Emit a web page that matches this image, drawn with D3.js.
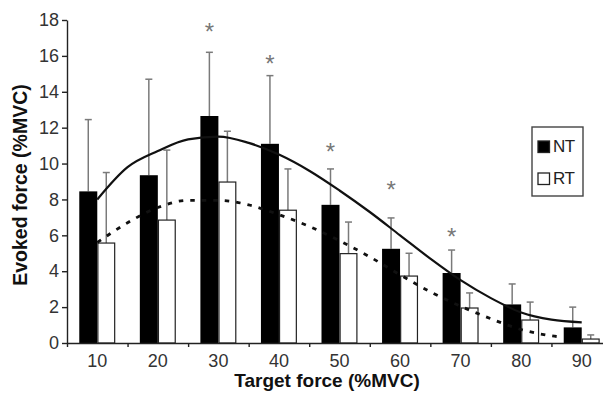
<!DOCTYPE html>
<html>
<head>
<meta charset="utf-8">
<script src="https://cdn.jsdelivr.net/npm/d3@7"></script>
<style>
  body { margin: 0; background: #fff; }
  svg { display: block; font-family: 'Liberation Sans', Arial, sans-serif; }
  .axis path, .axis line { stroke: #222; stroke-width: 1.4px; }
  .axis text { fill: #333; font-size: 18px; }
  .title { font-weight: bold; fill: #111; }
  .err { stroke: #7a7a7a; stroke-width: 1.5px; fill: none; }
  .fit { fill: none; stroke: #111; }
</style>
</head>
<body>
<div id="chart"></div>
<script>
// target force categories (%MVC)
const categories = ["10", "20", "30", "40", "50", "60", "70", "80", "90"];
const series = ["NT", "RT"];

// evoked force means and upward SD
const ntMean = [8.45, 9.35, 12.65, 11.1, 7.7, 5.25, 3.9, 2.15, 0.87];
const ntSd   = [4.0, 5.35, 3.55, 3.8, 2.0, 1.72, 1.28, 1.14, 1.13];
const rtMean = [5.57, 6.85, 8.97, 7.4, 4.98, 3.73, 1.95, 1.28, 0.22];
const rtSd   = [3.93, 3.9, 2.83, 2.3, 1.76, 1.27, 0.84, 1.0, 0.23];

// fitted curves
const ntFitX = [10, 15, 20, 25, 30, 35, 40, 45, 50, 55, 60, 65, 70, 75, 80, 85, 90];
const ntFit  = [8.0, 9.8, 10.7, 11.35, 11.5, 11.15, 10.5, 9.6, 8.5, 7.3, 6.0, 4.7, 3.5, 2.5, 1.7, 1.3, 1.15];
const rtFitX = [10, 15, 20, 25, 30, 35, 40, 45, 50, 55, 60, 65, 70, 75, 80, 85, 87];
const rtFit  = [5.6, 6.7, 7.55, 7.95, 7.95, 7.7, 7.15, 6.5, 5.7, 4.8, 3.8, 2.85, 2.05, 1.35, 0.75, 0.4, 0.32];

// significance markers (category, height)
const starCats = ["30", "40", "50", "60", "70"];
const starY    = [17.6, 15.8, 10.9, 8.8, 6.2];

const yTicks = [0, 2, 4, 6, 8, 10, 12, 14, 16, 18];

const width = 603, height = 394;
const svg = d3.select("#chart").append("svg")
  .attr("width", width).attr("height", height);

const x = d3.scaleBand().domain(categories).range([67, 612]);
const bw = x.bandwidth();
const sub = d3.scaleBand().domain(series).range([bw / 2 - 18, bw / 2 + 18]);
const y = d3.scaleLinear().domain([0, 18]).range([343, 20]);
const xf = d3.scaleLinear().domain([10, 90])
  .range([x("10") + bw / 2, x("90") + bw / 2]);

const rows = categories.map((c, i) => [
  { c, s: "NT", v: ntMean[i], sd: ntSd[i] },
  { c, s: "RT", v: rtMean[i], sd: rtSd[i] }
]).flat();

// error bars (upward only)
const eb = svg.append("g").selectAll("g").data(rows).join("g").attr("class", "err");
eb.append("line")
  .attr("x1", d => x(d.c) + sub(d.s) + sub.bandwidth() / 2)
  .attr("x2", d => x(d.c) + sub(d.s) + sub.bandwidth() / 2)
  .attr("y1", d => y(d.v)).attr("y2", d => y(d.v + d.sd));
eb.append("line")
  .attr("x1", d => x(d.c) + sub(d.s) + sub.bandwidth() / 2 - 3.5)
  .attr("x2", d => x(d.c) + sub(d.s) + sub.bandwidth() / 2 + 3.5)
  .attr("y1", d => y(d.v + d.sd)).attr("y2", d => y(d.v + d.sd));

// bars
svg.append("g").selectAll("rect").data(rows).join("rect")
  .attr("x", d => x(d.c) + sub(d.s) + (d.s === "RT" ? 0.6 : 0))
  .attr("width", d => sub.bandwidth() - (d.s === "RT" ? 1.2 : 0))
  .attr("y", d => y(d.v))
  .attr("height", d => y(0) - y(d.v))
  .attr("fill", d => d.s === "NT" ? "#000" : "#fff")
  .attr("stroke", d => d.s === "NT" ? "none" : "#222")
  .attr("stroke-width", 1.2);

// fitted curves
const line = d3.line().curve(d3.curveMonotoneX);
svg.append("path").attr("class", "fit")
  .attr("stroke-width", 2.2)
  .attr("d", line(ntFitX.map((f, i) => [xf(f), y(ntFit[i])])));
svg.append("path").attr("class", "fit")
  .attr("stroke-width", 2.8)
  .attr("stroke-dasharray", "4.5,7")
  .attr("d", line(rtFitX.map((f, i) => [xf(f), y(rtFit[i])])));

// asterisks
svg.append("g").selectAll("text").data(starCats).join("text")
  .attr("x", d => x(d) + sub("NT") + sub.bandwidth() / 2)
  .attr("y", (d, i) => y(starY[i]) + 13)
  .attr("text-anchor", "middle")
  .attr("font-size", 24)
  .attr("fill", "#777")
  .text("*");

// axes
svg.append("g").attr("class", "axis")
  .attr("transform", "translate(67,0)")
  .call(d3.axisLeft(y).tickValues(yTicks).tickSize(5).tickSizeOuter(0).tickPadding(3));

svg.append("g").attr("class", "axis")
  .attr("transform", "translate(0,343)")
  .call(d3.axisBottom(x).tickSize(0).tickPadding(11))
  .call(g => g.select(".domain").remove());

const xb = d3.scaleLinear().domain([0, categories.length]).range(x.range());
svg.append("g").attr("class", "axis")
  .attr("transform", "translate(0,343)")
  .call(d3.axisBottom(xb).tickValues(d3.range(0, categories.length + 1))
    .tickFormat("").tickSize(4).tickSizeOuter(0));

// axis titles
svg.append("text").attr("class", "title")
  .attr("x", 327).attr("y", 387)
  .attr("text-anchor", "middle").attr("font-size", 19)
  .text("Target force (%MVC)");
svg.append("text").attr("class", "title")
  .attr("transform", "translate(27,185) rotate(-90)")
  .attr("text-anchor", "middle").attr("font-size", 19.5)
  .text("Evoked force (%MVC)");

// legend
const lg = svg.append("g");
lg.append("rect").attr("x", 532).attr("y", 127).attr("width", 51).attr("height", 69)
  .attr("fill", "#fff").attr("stroke", "#444").attr("stroke-width", 1.4);
const items = lg.selectAll("g").data(series).join("g")
  .attr("transform", (d, i) => `translate(538,${141 + i * 32})`);
items.append("rect").attr("width", 11.5).attr("height", 11.5)
  .attr("fill", d => d === "NT" ? "#000" : "#fff")
  .attr("stroke", "#222").attr("stroke-width", 1.3);
items.append("text").attr("x", 15).attr("y", 11)
  .attr("font-size", 17).attr("fill", "#222")
  .attr("letter-spacing", -0.5)
  .text(d => d);
</script>
</body>
</html>
